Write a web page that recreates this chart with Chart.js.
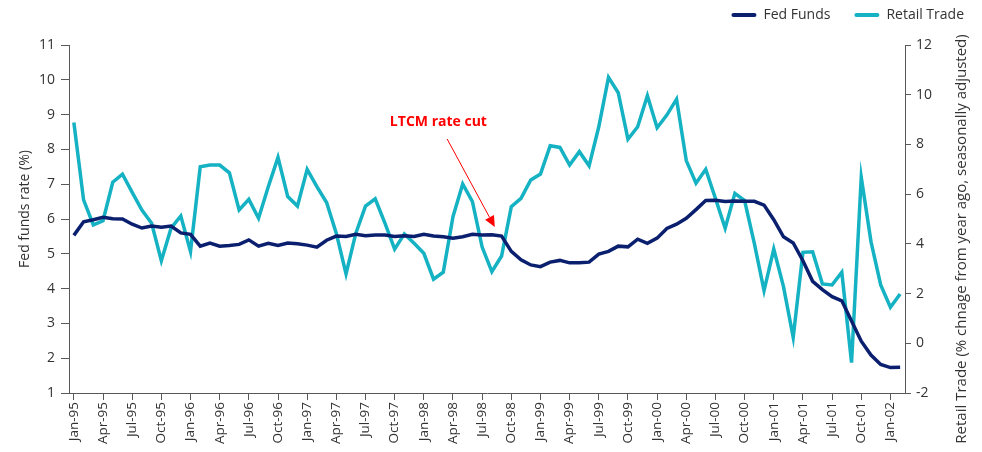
<!DOCTYPE html>
<html>
<head>
<meta charset="utf-8">
<script src="https://cdn.jsdelivr.net/npm/chart.js@4.4.0/dist/chart.umd.min.js"></script>
<style>
html, body { margin: 0; padding: 0; background: #fff; }
#wrap { width: 982px; height: 452px; }
</style>
</head>
<body>
<div id="wrap"><canvas id="myChart"></canvas></div>
<script>
// Monthly categories, Jan-95 to Feb-02
var months = [
	'Jan-95', 'Feb-95', 'Mar-95', 'Apr-95', 'May-95', 'Jun-95', 'Jul-95', 'Aug-95', 'Sep-95', 'Oct-95', 'Nov-95', 'Dec-95',
	'Jan-96', 'Feb-96', 'Mar-96', 'Apr-96', 'May-96', 'Jun-96', 'Jul-96', 'Aug-96', 'Sep-96', 'Oct-96', 'Nov-96', 'Dec-96',
	'Jan-97', 'Feb-97', 'Mar-97', 'Apr-97', 'May-97', 'Jun-97', 'Jul-97', 'Aug-97', 'Sep-97', 'Oct-97', 'Nov-97', 'Dec-97',
	'Jan-98', 'Feb-98', 'Mar-98', 'Apr-98', 'May-98', 'Jun-98', 'Jul-98', 'Aug-98', 'Sep-98', 'Oct-98', 'Nov-98', 'Dec-98',
	'Jan-99', 'Feb-99', 'Mar-99', 'Apr-99', 'May-99', 'Jun-99', 'Jul-99', 'Aug-99', 'Sep-99', 'Oct-99', 'Nov-99', 'Dec-99',
	'Jan-00', 'Feb-00', 'Mar-00', 'Apr-00', 'May-00', 'Jun-00', 'Jul-00', 'Aug-00', 'Sep-00', 'Oct-00', 'Nov-00', 'Dec-00',
	'Jan-01', 'Feb-01', 'Mar-01', 'Apr-01', 'May-01', 'Jun-01', 'Jul-01', 'Aug-01', 'Sep-01', 'Oct-01', 'Nov-01', 'Dec-01',
	'Jan-02', 'Feb-02'
];

// Fed funds rate (%), left axis
var fedFunds = [
	5.53, 5.92, 5.98, 6.05, 6.01, 6.00, 5.85, 5.74, 5.80, 5.76, 5.80, 5.60,
	5.56, 5.22, 5.31, 5.22, 5.24, 5.27, 5.40, 5.22, 5.30, 5.24, 5.31, 5.29,
	5.25, 5.19, 5.39, 5.51, 5.50, 5.56, 5.52, 5.54, 5.54, 5.50, 5.52, 5.50,
	5.56, 5.51, 5.49, 5.45, 5.49, 5.56, 5.54, 5.55, 5.51, 5.07, 4.83, 4.68,
	4.63, 4.76, 4.81, 4.74, 4.74, 4.76, 4.99, 5.07, 5.22, 5.20, 5.42, 5.30,
	5.45, 5.73, 5.85, 6.02, 6.27, 6.53, 6.54, 6.50, 6.52, 6.51, 6.51, 6.40,
	5.98, 5.49, 5.31, 4.80, 4.21, 3.97, 3.77, 3.65, 3.07, 2.49, 2.09, 1.82,
	1.73, 1.74
];

// Retail trade, % change from year ago, right axis
var retailTrade = [
	8.88, 5.77, 4.76, 4.93, 6.48, 6.80, 6.07, 5.36, 4.83, 3.32, 4.63, 5.12,
	3.69, 7.10, 7.17, 7.17, 6.86, 5.36, 5.79, 5.03, 6.30, 7.48, 5.90, 5.52,
	7.00, 6.30, 5.66, 4.42, 2.79, 4.42, 5.52, 5.81, 4.83, 3.79, 4.40, 4.02,
	3.62, 2.58, 2.86, 5.09, 6.41, 5.70, 3.87, 2.88, 3.51, 5.50, 5.83, 6.57,
	6.81, 7.95, 7.88, 7.17, 7.71, 7.14, 8.71, 10.70, 10.08, 8.21, 8.71, 9.96,
	8.67, 9.18, 9.82, 7.35, 6.44, 7.00, 5.83, 4.63, 6.03, 5.74, 4.02, 2.12,
	3.79, 2.28, 0.24, 3.66, 3.68, 2.39, 2.35, 2.86, -0.78, 6.68, 4.09, 2.35,
	1.45, 1.98
];

var leftTicks = { min: 1, max: 11, step: 1 };
var rightTicks = { min: -2, max: 12, step: 2 };

var leftTitle = 'Fed funds rate (%)';
var rightTitle = 'Retail Trade (% chnage from year ago, seasonally adjusted)';

// LTCM annotation: text and arrow, in data terms
var noteText = 'LTCM rate cut';
var noteMonth = 'Aug-98';

var axisColor = '#595959';
var textColor = '#333333';
var fontFamily = "'Open Sans', 'Noto Sans', sans-serif";

// draws the red label + arrow pointing at the cut
var ltcmNote = {
	id: 'ltcmNote',
	afterDatasetsDraw: function(chart) {
		var ctx = chart.ctx;
		var xs = chart.scales.x;
		var ys = chart.scales.y;
		var i = months.indexOf(noteMonth);
		var tipX = xs.getPixelForValue(i + 0.3);
		var tipY = ys.getPixelForValue(fedFunds[i] + 0.22);
		var startX = xs.getPixelForValue(i - 4.6);
		var startY = ys.getPixelForValue(8.3);
		var textX = xs.getPixelForValue(i - 5.5);
		var textY = ys.getPixelForValue(8.8);

		ctx.save();
		ctx.strokeStyle = '#ff0000';
		ctx.fillStyle = '#ff0000';
		ctx.lineWidth = 1;
		var ang = Math.atan2(tipY - startY, tipX - startX);
		var headLen = 11;
		var backX = tipX - headLen * Math.cos(ang);
		var backY = tipY - headLen * Math.sin(ang);
		ctx.beginPath();
		ctx.moveTo(startX, startY);
		ctx.lineTo(backX, backY);
		ctx.stroke();
		ctx.beginPath();
		ctx.moveTo(tipX, tipY);
		ctx.lineTo(backX + 5 * Math.sin(ang), backY - 5 * Math.cos(ang));
		ctx.lineTo(backX - 5 * Math.sin(ang), backY + 5 * Math.cos(ang));
		ctx.closePath();
		ctx.fill();

		ctx.font = 'bold 14px ' + fontFamily;
		ctx.textAlign = 'center';
		ctx.textBaseline = 'middle';
		ctx.fillText(noteText, textX, textY);
		ctx.restore();
	}
};

// axis titles (both read bottom-to-top) and the legend, drawn by hand
var extras = {
	id: 'extras',
	afterDraw: function(chart) {
		var ctx = chart.ctx;
		ctx.save();
		ctx.fillStyle = textColor;
		ctx.textAlign = 'center';
		ctx.textBaseline = 'middle';

		ctx.save();
		ctx.translate(25, 209);
		ctx.rotate(-Math.PI / 2);
		ctx.font = '14px ' + fontFamily;
		ctx.fillText(leftTitle, 0, 0);
		ctx.restore();

		ctx.save();
		ctx.translate(chart.width - 20, 239);
		ctx.rotate(-Math.PI / 2);
		ctx.font = '15px ' + fontFamily;
		ctx.fillText(rightTitle, 0, 0);
		ctx.restore();

		// legend, right aligned
		ctx.font = '14px ' + fontFamily;
		ctx.textAlign = 'left';
		var right = chart.width - 18;
		var sets = chart.data.datasets;
		var x = right;
		var pos = [];
		for (var k = sets.length - 1; k >= 0; k--) {
			var w = ctx.measureText(sets[k].label).width;
			x -= w;
			pos[k] = x;
			x -= 32 + 24;
		}
		for (var k = 0; k < sets.length; k++) {
			ctx.fillStyle = textColor;
			ctx.fillText(sets[k].label, pos[k], 15);
			ctx.strokeStyle = sets[k].borderColor;
			ctx.lineWidth = 4;
			ctx.lineCap = 'round';
			ctx.beginPath();
			ctx.moveTo(pos[k] - 30, 15);
			ctx.lineTo(pos[k] - 9, 15);
			ctx.stroke();
		}
		ctx.restore();
	}
};

var everyThird = function(c) {
	return c.index % 3 === 0 ? axisColor : 'rgba(0,0,0,0)';
};

var ctx = document.getElementById('myChart').getContext('2d');
var myChart = new Chart(ctx, {
	type: 'line',
	data: {
		labels: months,
		datasets: [{
			label: 'Fed Funds',
			data: fedFunds,
			yAxisID: 'y',
			borderColor: '#0b1f6f',
			backgroundColor: '#0b1f6f',
			borderWidth: 3.5,
			pointRadius: 0,
			tension: 0
		}, {
			label: 'Retail Trade',
			data: retailTrade,
			yAxisID: 'y2',
			borderColor: '#14b2c2',
			backgroundColor: '#14b2c2',
			borderWidth: 3.5,
			pointRadius: 0,
			tension: 0
		}]
	},
	options: {
		responsive: true,
		maintainAspectRatio: false,
		animation: false,
		layout: {
			padding: { top: 45, right: 0, bottom: 0, left: 0 }
		},
		plugins: {
			legend: { display: false },
			tooltip: { enabled: false }
		},
		scales: {
			x: {
				type: 'category',
				offset: true,
				afterFit: function(s) { s.height = 59; },
				border: { color: axisColor },
				grid: {
					drawOnChartArea: false,
					tickLength: 7,
					color: everyThird,
					tickColor: everyThird
				},
				ticks: {
					autoSkip: false,
					maxRotation: 90,
					minRotation: 90,
					padding: 2,
					color: textColor,
					font: { family: fontFamily, size: 13.5 },
					callback: function(v, i) { return i % 3 === 0 ? months[i] : ''; }
				}
			},
			y: {
				position: 'left',
				min: leftTicks.min,
				max: leftTicks.max,
				afterFit: function(s) { s.width = 69; },
				border: { color: axisColor },
				grid: { drawOnChartArea: false, tickLength: 8, color: axisColor },
				ticks: {
					stepSize: leftTicks.step,
					padding: 6,
					color: textColor,
					font: { family: fontFamily, size: 14 }
				}
			},
			y2: {
				position: 'right',
				min: rightTicks.min,
				max: rightTicks.max,
				afterFit: function(s) { s.width = 77; },
				border: { color: axisColor },
				grid: { drawOnChartArea: false, tickLength: 6, color: axisColor },
				ticks: {
					stepSize: rightTicks.step,
					padding: 5,
					color: textColor,
					font: { family: fontFamily, size: 14 }
				}
			}
		}
	},
	plugins: [ltcmNote, extras]
});
</script>
</body>
</html>
